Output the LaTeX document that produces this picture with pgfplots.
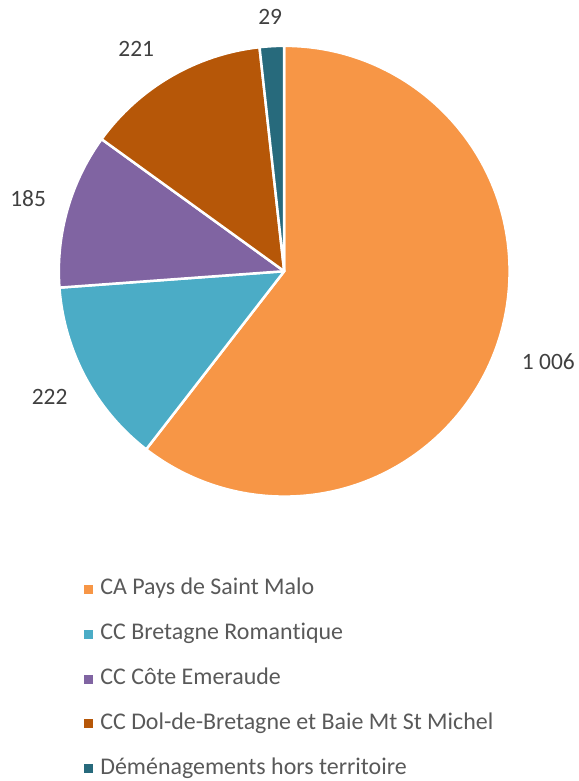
\documentclass[border=0pt]{standalone}
\usepackage{fontspec}
\setmainfont{Carlito}[Ligatures=NoCommon]
\usepackage{pgfplots}
\usepackage{pgfplotstable}
\pgfplotsset{compat=1.18}

\definecolor{sliceA}{HTML}{F79646}
\definecolor{sliceB}{HTML}{4BACC6}
\definecolor{sliceC}{HTML}{8064A2}
\definecolor{sliceD}{HTML}{B65708}
\definecolor{sliceE}{HTML}{276A7C}
\definecolor{legtext}{HTML}{595959}
\definecolor{labtext}{HTML}{404040}

% one value per slice, clockwise from 12 o'clock
\pgfplotstableread{
value
1006
222
185
221
29
}\piedata

\begin{document}
\begin{tikzpicture}[
  lab/.style={font=\fontsize{23.5}{28}\selectfont, text=labtext},
  wedge/.style={draw=white, line width=2.5pt, line join=round},
]
\pgfplotstablegetelem{0}{value}\of\piedata \edef\vA{\pgfplotsretval}
\pgfplotstablegetelem{1}{value}\of\piedata \edef\vB{\pgfplotsretval}
\pgfplotstablegetelem{2}{value}\of\piedata \edef\vC{\pgfplotsretval}
\pgfplotstablegetelem{3}{value}\of\piedata \edef\vD{\pgfplotsretval}
\pgfplotstablegetelem{4}{value}\of\piedata \edef\vE{\pgfplotsretval}
\pgfmathsetmacro\tot{\vA+\vB+\vC+\vD+\vE}
\pgfmathsetmacro\aA{90}
\pgfmathsetmacro\aB{\aA-\vA/\tot*360}
\pgfmathsetmacro\aC{\aB-\vB/\tot*360}
\pgfmathsetmacro\aD{\aC-\vC/\tot*360}
\pgfmathsetmacro\aE{\aD-\vD/\tot*360}
\pgfmathsetmacro\aF{\aE-\vE/\tot*360}
\pgfmathsetmacro\mA{(\aA+\aB)/2}
\pgfmathsetmacro\mB{(\aB+\aC)/2}
\pgfmathsetmacro\mC{(\aC+\aD)/2}
\pgfmathsetmacro\mD{(\aD+\aE)/2}
\pgfmathsetmacro\mE{(\aE+\aF)/2}
\def\R{226pt}
\begin{axis}[
  x=226pt, y=226pt,
  xmin=-1.2611, xmax=1.2832,
  ymin=-2.2522, ymax=1.2035,
  hide axis,
  clip=false,
  legend cell align=left,
  legend style={
    at={(axis description cs:0.1409,0.2599)}, anchor=north west,
    draw=none, fill=none,
    font=\fontsize{24}{28}\selectfont, text=legtext,
    nodes={inner sep=0pt, text height=16pt, text depth=5pt},
    row sep=24pt, column sep=8pt,
  },
]
\path (rel axis cs:0,0) rectangle (rel axis cs:1,1);

\filldraw[wedge, fill=sliceA] (axis cs:0,0) -- ++(\aA:\R) arc[start angle=\aA, end angle=\aB, radius=\R] -- cycle;
\filldraw[wedge, fill=sliceB] (axis cs:0,0) -- ++(\aB:\R) arc[start angle=\aB, end angle=\aC, radius=\R] -- cycle;
\filldraw[wedge, fill=sliceC] (axis cs:0,0) -- ++(\aC:\R) arc[start angle=\aC, end angle=\aD, radius=\R] -- cycle;
\filldraw[wedge, fill=sliceD] (axis cs:0,0) -- ++(\aD:\R) arc[start angle=\aD, end angle=\aE, radius=\R] -- cycle;
\filldraw[wedge, fill=sliceE] (axis cs:0,0) -- ++(\aE:\R) arc[start angle=\aE, end angle=\aF, radius=\R] -- cycle;

\path (axis cs:0,0) ++(\mA:280pt) node[lab] {1 006};
\path (axis cs:0,0) ++(\mB:267pt) node[lab] {\vB};
\path (axis cs:0,0) ++(\mC:267pt) node[lab] {\vC};
\path (axis cs:0,0) ++({\mD+3.4}:268pt) node[lab] {\vD};
\path (axis cs:0,0) ++(\mE:255pt) node[lab] {\vE};

\addlegendimage{legend image code/.code={\fill[sliceA] (0pt,-4pt) rectangle (8pt,4pt);}}
\addlegendentry{CA Pays de Saint Malo}
\addlegendimage{legend image code/.code={\fill[sliceB] (0pt,-4pt) rectangle (8pt,4pt);}}
\addlegendentry{CC Bretagne Romantique}
\addlegendimage{legend image code/.code={\fill[sliceC] (0pt,-4pt) rectangle (8pt,4pt);}}
\addlegendentry{CC Côte Emeraude}
\addlegendimage{legend image code/.code={\fill[sliceD] (0pt,-4pt) rectangle (8pt,4pt);}}
\addlegendentry{CC Dol-de-Bretagne et Baie Mt St Michel}
\addlegendimage{legend image code/.code={\fill[sliceE] (0pt,-4pt) rectangle (8pt,4pt);}}
\addlegendentry{Déménagements hors territoire}
\end{axis}
\end{tikzpicture}
\end{document}
